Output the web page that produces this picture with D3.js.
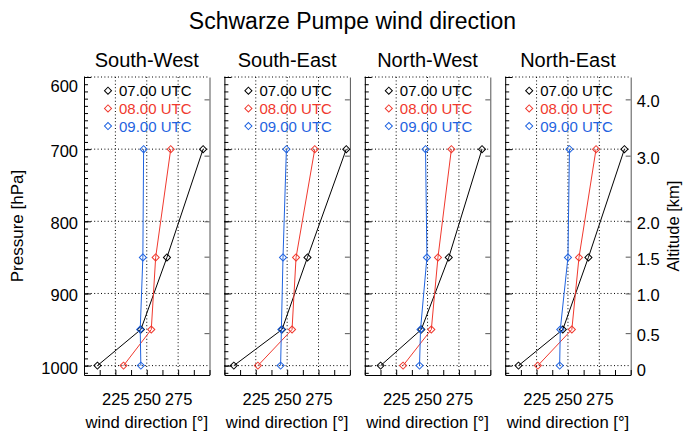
<!DOCTYPE html>
<html><head><meta charset="utf-8">
<script src="https://cdn.jsdelivr.net/npm/d3@7"></script>
<style>
body{margin:0;background:#fff}
text{font-family:"Liberation Sans",Arial,Helvetica,sans-serif;fill:#000}
</style>
</head><body>
<svg id="chart" width="684" height="431"></svg>
<script>
// ---- data ----
const chartTitle = "Schwarze Pumpe wind direction";
const regions = ["South-West", "South-East", "North-West", "North-East"];
const times = ["07.00 UTC", "08.00 UTC", "09.00 UTC"];
const timeColors = ["#000000", "#f0392e", "#1f63e0"];
const pressureLevels = [1000, 950, 850, 700];

const southWest07 = [210.7, 245.3, 266.1, 294.9];
const southWest08 = [231.5, 253.6, 257.1, 269.1];
const southWest09 = [245.3, 244.8, 246.9, 247.5];

const southEast07 = [207.5, 245.9, 266.2, 297.1];
const southEast08 = [226.7, 253.9, 257.1, 272.0];
const southEast09 = [244.8, 245.4, 246.7, 249.4];

const northWest07 = [212.6, 245.0, 266.9, 293.4];
const northWest08 = [230.5, 253.0, 258.3, 269.0];
const northWest09 = [243.6, 244.4, 249.5, 248.4];

const northEast07 = [210.6, 245.9, 266.3, 295.0];
const northEast08 = [226.0, 253.1, 258.8, 272.4];
const northEast09 = [243.4, 243.9, 250.0, 251.2];

const panelSeries = [
  [southWest07, southWest08, southWest09],
  [southEast07, southEast08, southEast09],
  [northWest07, northWest08, northWest09],
  [northEast07, northEast08, northEast09]
];

const pressureDomain = [600, 1013];
const pressureTicks = [600, 700, 800, 900, 1000];
const windDomain = [200, 300];
const windTicks = [225, 250, 275];
const windMinorTicks = [200, 212.5, 225, 237.5, 250, 262.5, 275, 287.5, 300];
const altitudeLabels = ["0", "0.5", "1.0", "1.5", "2.0", "3.0", "4.0"];
const altitudePressure = [1013, 955, 900, 849, 800, 709, 631];

// ---- layout ----
const svg = d3.select("#chart");
const plotTop = 77, plotBottom = 375;
const panelW = 125.5, panelStep = 140.4, firstLeft = 84;
const y = d3.scaleLinear().domain(pressureDomain).range([plotTop, plotBottom]);

svg.append("text").attr("x", 352.5).attr("y", 28.5)
  .attr("text-anchor", "middle").style("font-size", "23px").text(chartTitle);

svg.append("text")
  .attr("transform", `translate(23,${(plotTop + plotBottom) / 2}) rotate(-90)`)
  .attr("text-anchor", "middle").style("font-size", "17px").text("Pressure [hPa]");

svg.append("text")
  .attr("transform", `translate(679,${(plotTop + plotBottom) / 2}) rotate(-90)`)
  .attr("text-anchor", "middle").style("font-size", "16.5px").text("Altitude [km]");

const diamond = d3.symbol().type(d3.symbolSquare).size(25);
const dotted = "1,2.4";

regions.forEach((name, i) => {
  const left = firstLeft + i * panelStep;
  const x = d3.scaleLinear().domain(windDomain).range([left, left + panelW]);
  const g = svg.append("g");

  g.append("text").attr("x", left + panelW / 2).attr("y", 66.5)
    .attr("text-anchor", "middle").style("font-size", "20px").text(name);

  g.selectAll(".hg").data(pressureTicks).join("line")
    .attr("x1", left).attr("x2", left + panelW)
    .attr("y1", d => y(d)).attr("y2", d => y(d))
    .attr("stroke", "#000").attr("stroke-width", 1).attr("stroke-dasharray", dotted);
  g.selectAll(".vg").data(windTicks).join("line")
    .attr("x1", d => x(d)).attr("x2", d => x(d))
    .attr("y1", plotTop).attr("y2", plotBottom)
    .attr("stroke", "#000").attr("stroke-width", 1).attr("stroke-dasharray", dotted);

  const leftMinor = g.append("g").attr("transform", `translate(${left},0)`)
    .call(d3.axisLeft(y).tickValues(d3.range(600, 1011, 10)).tickSizeInner(-4).tickSizeOuter(0).tickFormat(""));
  leftMinor.selectAll("line, path").attr("stroke", "#000");
  const leftMajor = g.append("g").attr("transform", `translate(${left},0)`)
    .call(d3.axisLeft(y).tickValues(pressureTicks).tickSizeInner(-7).tickSizeOuter(0).tickPadding(6)
      .tickFormat(i === 0 ? d3.format("d") : ""));
  leftMajor.select(".domain").remove();
  leftMajor.selectAll("line").attr("stroke", "#000");
  leftMajor.selectAll("text").style("font-size", "16.5px").style("font-family", "Liberation Sans, Arial, sans-serif")
    .attr("dy", d => d === 600 ? "0.9em" : (d === 1000 ? "0.45em" : "0.42em"));

  const rightAx = g.append("g").attr("transform", `translate(${left + panelW},0)`)
    .call(d3.axisRight(y).tickValues(altitudePressure).tickSizeInner(-5).tickSizeOuter(0).tickPadding(6)
      .tickFormat((d, k) => i === regions.length - 1 ? altitudeLabels[k] : ""));
  rightAx.selectAll("line, path").attr("stroke", "#555");
  rightAx.selectAll("text").style("font-size", "16.5px").style("font-family", "Liberation Sans, Arial, sans-serif")
    .attr("dy", d => d === 1013 ? "0.05em" : "0.45em");

  const botAx = g.append("g").attr("transform", `translate(0,${plotBottom})`)
    .call(d3.axisBottom(x).tickValues(windMinorTicks).tickSizeInner(-5).tickSizeOuter(0).tickPadding(18)
      .tickFormat(d => windTicks.includes(d) ? d3.format("d")(d) : ""));
  botAx.selectAll("line, path").attr("stroke", "#000");
  botAx.selectAll("text").style("font-size", "16.5px").style("font-family", "Liberation Sans, Arial, sans-serif");

  g.append("text").attr("x", left + panelW / 2).attr("y", 428)
    .attr("text-anchor", "middle").style("font-size", "16.7px").text("wind direction [°]");

  panelSeries[i].forEach((vals, s) => {
    const pts = vals.map((v, k) => [x(v), y(pressureLevels[k])]);
    g.append("path").attr("d", d3.line()(pts))
      .attr("fill", "none").attr("stroke", timeColors[s]).attr("stroke-width", 1);
    g.selectAll(null).data(pts).join("path")
      .attr("d", diamond)
      .attr("transform", d => `translate(${d[0]},${d[1]}) rotate(45)`)
      .attr("fill", "none").attr("stroke", timeColors[s]).attr("stroke-width", 1);
  });

  times.forEach((t, s) => {
    const cy = 90.7 + s * 17.7;
    g.append("path").attr("d", diamond)
      .attr("transform", `translate(${left + 24},${cy}) rotate(45)`)
      .attr("fill", "#fff").attr("stroke", timeColors[s]).attr("stroke-width", 1);
    g.append("text").attr("x", left + 35).attr("y", cy + 5.4)
      .style("font-size", "15px").style("fill", timeColors[s]).text(t);
  });
});
</script>
</body></html>
